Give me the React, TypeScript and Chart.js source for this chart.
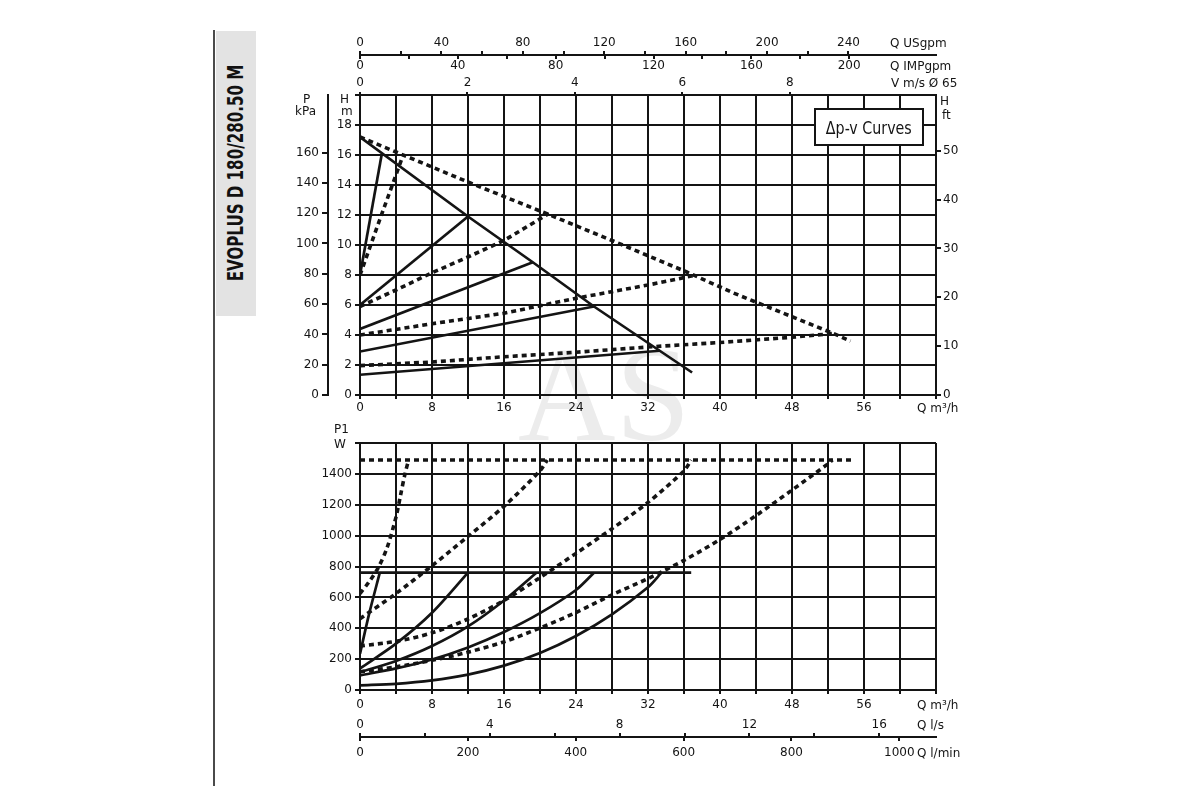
import { useEffect, useRef } from "react"
import { Chart, registerables } from "chart.js"

Chart.register(...registerables)

const FONT = "'DejaVu Sans', 'Liberation Sans', sans-serif"
const NARROW = "'Liberation Sans Narrow', 'DejaVu Sans Condensed', 'Liberation Sans', sans-serif"
const INK = "#141414"

// axis ranges; every unit axis is a rescale of Q m³/h (0..64) or H m (0..20)
const qRange = [0, 64]
const usgpmRange = [0, 283]
const impgpmRange = [0, 235.5]
const velocityRange = [0, 10.72]
const lsRange = [0, 17.75]
const lminRange = [0, 1068]
const headRange = [0, 20]
const kpaRange = [0, 198]
const ftRange = [0, 61.4]
const powerRange = [0, 1600]

// head curves, [Q m³/h, H m]
const headMaxSolid = [[0, 17.2], [12, 11.9], [19.2, 8.85], [26, 5.9], [33.3, 2.95], [36.9, 1.5]]
const headPp1 = [[0, 8], [2.4, 16]]
const headPp2 = [[0, 6], [12, 11.9]]
const headPp3 = [[0, 4.4], [19.2, 8.85]]
const headPp4 = [[0, 2.9], [26, 5.9]]
const headPp5 = [[0, 1.35], [33.3, 2.95]]

const headMaxDotted = [[0, 17.2], [4, 16.2], [12, 14.2], [20.7, 12.1], [28, 10.3], [36.3, 8.2], [41.5, 6.8], [45.2, 5.9], [48.9, 5.0], [52.6, 4.1], [54.5, 3.6]]
const headCp1 = [[0, 8], [2.2, 11.7], [4.8, 16]]
const headCp2 = [[0, 5.9], [4, 7.0], [8, 8.15], [12, 9.2], [16, 10.3], [21, 12.1]]
const headCp3 = [[0, 4.0], [8, 4.75], [16, 5.45], [24, 6.45], [32, 7.33], [37.4, 8.0]]
const headCp4 = [[0, 1.96], [8, 2.2], [16, 2.55], [24, 2.85], [32, 3.2], [40, 3.5], [48, 3.85], [52.6, 4.1]]

// power curves, [Q m³/h, P1 W]
const powerLimitSolid = [[0, 760], [36.8, 760]]
const powerPp1 = [[0, 235], [1, 490], [2.2, 760]]
const powerPp2 = [[0, 140], [4, 300], [8, 500], [12, 760]]
const powerPp3 = [[0, 115], [4, 188], [8, 285], [12, 412], [16, 580], [19.6, 760]]
const powerPp4 = [[0, 95], [4, 140], [8, 198], [12, 276], [16, 376], [20, 498], [24, 648], [26, 760]]
const powerPp5 = [[0, 30], [4, 40], [8, 62], [12, 100], [16, 158], [20, 240], [24, 350], [28, 490], [32, 665], [33.5, 760]]

const powerLimitDotted = [[0, 1490], [54.8, 1490]]
const powerCp1 = [[0, 624], [1, 700], [2, 790], [3, 920], [4, 1120], [4.5, 1260], [5, 1400], [5.4, 1490]]
const powerCp2 = [[0, 462], [4, 625], [8, 805], [12, 995], [16, 1190], [20, 1420], [20.8, 1490]]
const powerCp3 = [[0, 285], [4, 315], [8, 370], [12, 460], [16, 580], [20, 728], [24, 885], [28, 1045], [32, 1215], [36, 1420], [36.8, 1490]]
const powerCp4 = [[0, 118], [4, 150], [8, 192], [12, 245], [16, 312], [20, 402], [24, 502], [28, 617], [32, 722], [36, 840], [40, 975], [44, 1130], [48, 1295], [52, 1465], [52.5, 1490]]

const pts = (arr: number[][]) => arr.map(([x, y]) => ({ x, y }))

const solid = (arr: number[][], tension = 0) => ({
  data: pts(arr),
  showLine: true,
  borderColor: INK,
  borderWidth: 2.7,
  pointRadius: 0,
  tension,
})

const dotted = (arr: number[][], tension = 0) => ({
  ...solid(arr, tension),
  borderDash: [5, 4],
  borderWidth: 3.6,
})

const fixW = (w: number) => (s: any) => {
  s.width = w
}
const fixH = (h: number) => (s: any) => {
  s.height = h
}

// one linear axis, grid lines and tick marks in the chart's ink
const axis = (range: number[], step: number, opts: any = {}) => ({
  type: "linear" as const,
  min: range[0],
  max: range[1],
  ...opts,
  grid: { color: INK, lineWidth: 2, tickLength: 5, ...(opts.grid || {}) },
  border: { color: INK, width: 2, ...(opts.border || {}) },
  ticks: {
    stepSize: step,
    autoSkip: false,
    maxRotation: 0,
    includeBounds: false,
    color: INK,
    font: { family: FONT, size: 12 },
    ...(opts.ticks || {}),
  },
})

const upTo = (last: number, every: number) => (v: any) =>
  v > last + 1e-6 ? null : Math.abs(v % every) < 1e-6 ? String(v) : ""

const qLabels = (v: any) => (v % 8 === 0 && v < 64 ? String(v) : "")

function Label({ x, y, text, size = 12 }: { x: number; y: number; text: string; size?: number }) {
  return (
    <div
      style={{
        position: "absolute",
        left: x,
        top: y - 8,
        fontSize: size,
        lineHeight: "16px",
        whiteSpace: "nowrap",
        color: INK,
        zIndex: 2,
      }}
    >
      {text}
    </div>
  )
}

export default function App() {
  const headRef = useRef<HTMLCanvasElement>(null)
  const powerRef = useRef<HTMLCanvasElement>(null)

  useEffect(() => {
    document.body.style.margin = "0"
    if (!headRef.current || !powerRef.current) return

    const common = {
      responsive: false,
      maintainAspectRatio: false,
      animation: false as const,
      devicePixelRatio: 1,
      plugins: { legend: { display: false }, tooltip: { enabled: false } },
    }

    const head = new Chart(headRef.current, {
      type: "scatter",
      data: {
        datasets: [
          dotted(headMaxDotted),
          dotted(headCp1),
          dotted(headCp2),
          dotted(headCp3),
          dotted(headCp4),
          solid(headMaxSolid),
          solid(headPp1),
          solid(headPp2),
          solid(headPp3),
          solid(headPp4),
          solid(headPp5),
        ],
      },
      options: {
        ...common,
        layout: { padding: { left: 288, right: 224, top: 35, bottom: 0 } },
        scales: {
          x: axis(qRange, 4, {
            position: "bottom",
            afterFit: fixH(25),
            grid: { tickLength: 4 },
            ticks: { padding: 2, callback: qLabels },
          }),
          y: axis(headRange, 2, {
            position: "left",
            weight: 0,
            afterFit: fixW(32),
            ticks: { padding: 3, callback: (v: any) => (v < 20 ? String(v) : "") },
          }),
          kpa: axis(kpaRange, 20, {
            position: "left",
            weight: 1,
            afterFit: fixW(40),
            grid: { drawOnChartArea: false, tickLength: 6 },
            ticks: { padding: 3, callback: upTo(160, 20) },
          }),
          ft: axis(ftRange, 10, {
            position: "right",
            afterFit: fixW(40),
            grid: { drawOnChartArea: false, tickLength: 5 },
            ticks: { padding: 2, callback: upTo(50, 10) },
          }),
          vel: axis(velocityRange, 2, {
            position: "top",
            weight: 0,
            afterFit: fixH(40),
            grid: { drawOnChartArea: false, tickLength: 3 },
            ticks: { padding: 2, callback: upTo(8, 2) },
          }),
          imp: axis(impgpmRange, 20, {
            position: "top",
            weight: 1,
            afterFit: fixH(0),
            border: { display: false },
            grid: { drawOnChartArea: false, tickLength: -4 },
            ticks: { mirror: true, padding: 3.5, callback: upTo(200, 40) },
          }),
          usg: axis(usgpmRange, 20, {
            position: "top",
            weight: 2,
            afterFit: fixH(20),
            grid: { drawOnChartArea: false, tickLength: 4 },
            ticks: { padding: 1, callback: upTo(240, 40) },
          }),
        },
      },
    })

    const power = new Chart(powerRef.current, {
      type: "scatter",
      data: {
        datasets: [
          dotted(powerLimitDotted),
          dotted(powerCp1, 0.3),
          dotted(powerCp2, 0.3),
          dotted(powerCp3, 0.3),
          dotted(powerCp4, 0.3),
          solid(powerLimitSolid),
          solid(powerPp1, 0.3),
          solid(powerPp2, 0.3),
          solid(powerPp3, 0.3),
          solid(powerPp4, 0.3),
          solid(powerPp5, 0.3),
        ],
      },
      options: {
        ...common,
        layout: { padding: { left: 320, right: 264, top: 23, bottom: 33 } },
        scales: {
          x: axis(qRange, 4, {
            position: "bottom",
            weight: 0,
            afterFit: fixH(47),
            grid: { tickLength: 4 },
            ticks: { padding: 4, callback: qLabels },
          }),
          ls: axis(lsRange, 2, {
            position: "bottom",
            weight: 1,
            afterFit: fixH(0),
            border: { display: false },
            grid: { drawOnChartArea: false, tickLength: -4 },
            ticks: { mirror: true, padding: 5, callback: upTo(16, 4) },
          }),
          lmin: axis(lminRange, 200, {
            position: "bottom",
            weight: 2,
            afterFit: fixH(30),
            grid: { drawOnChartArea: false, tickLength: 4 },
            ticks: { padding: 4.5, callback: upTo(1000, 200) },
          }),
          y: axis(powerRange, 200, {
            position: "left",
            afterFit: fixW(40),
            ticks: { padding: 3, callback: (v: any) => (v < 1600 ? String(v) : "") },
          }),
        },
      },
    })

    return () => {
      head.destroy()
      power.destroy()
    }
  }, [])

  return (
    <div
      style={{
        position: "relative",
        width: 1200,
        height: 800,
        background: "#fff",
        overflow: "hidden",
        fontFamily: FONT,
      }}
    >
      <div
        style={{
          position: "absolute",
          left: 518,
          top: 327,
          fontFamily: "'Liberation Serif', serif",
          fontSize: 135,
          lineHeight: 1,
          color: "#ececec",
        }}
      >
        AS
      </div>

      <div style={{ position: "absolute", left: 213, top: 30, width: 2, height: 756, background: "#4a4a4a" }} />
      <div style={{ position: "absolute", left: 216, top: 31, width: 40, height: 285, background: "#e3e3e3" }} />
      <div
        style={{
          position: "absolute",
          left: 236,
          top: 173,
          transform: "translate(-50%, -50%) rotate(-90deg) scaleX(0.8)",
          fontFamily: NARROW,
          fontWeight: 700,
          fontSize: 21,
          whiteSpace: "nowrap",
          color: "#111",
        }}
      >
        EVOPLUS D 180/280.50 M
      </div>

      <canvas ref={headRef} width={1200} height={420} style={{ position: "absolute", left: 0, top: 0, zIndex: 1 }} />
      <canvas ref={powerRef} width={1200} height={380} style={{ position: "absolute", left: 0, top: 420, zIndex: 1 }} />

      <Label x={890} y={43} text="Q USgpm" />
      <Label x={890} y={66} text="Q IMPgpm" />
      <Label x={891} y={83} text="V m/s Ø 65" />
      <Label x={303} y={99} text="P" />
      <Label x={295} y={111} text="kPa" />
      <Label x={340} y={99} text="H" />
      <Label x={341} y={111} text="m" />
      <Label x={940} y={101} text="H" />
      <Label x={942} y={115} text="ft" />
      <Label x={917} y={408} text="Q m³/h" />
      <Label x={334} y={429} text="P1" />
      <Label x={334} y={444} text="W" />
      <Label x={917} y={705} text="Q m³/h" />
      <Label x={917} y={725} text="Q l/s" />
      <Label x={917} y={753} text="Q l/min" />

      <div
        style={{
          position: "absolute",
          left: 814,
          top: 108,
          width: 110,
          height: 38,
          boxSizing: "border-box",
          border: `2px solid ${INK}`,
          background: "#fff",
          zIndex: 2,
          display: "flex",
          alignItems: "center",
          justifyContent: "center",
          fontFamily: NARROW,
          fontSize: 18,
          color: INK,
        }}
      >
        <span style={{ display: "inline-block", transform: "scaleX(0.88)", whiteSpace: "nowrap" }}>Δp-v Curves</span>
      </div>
    </div>
  )
}
